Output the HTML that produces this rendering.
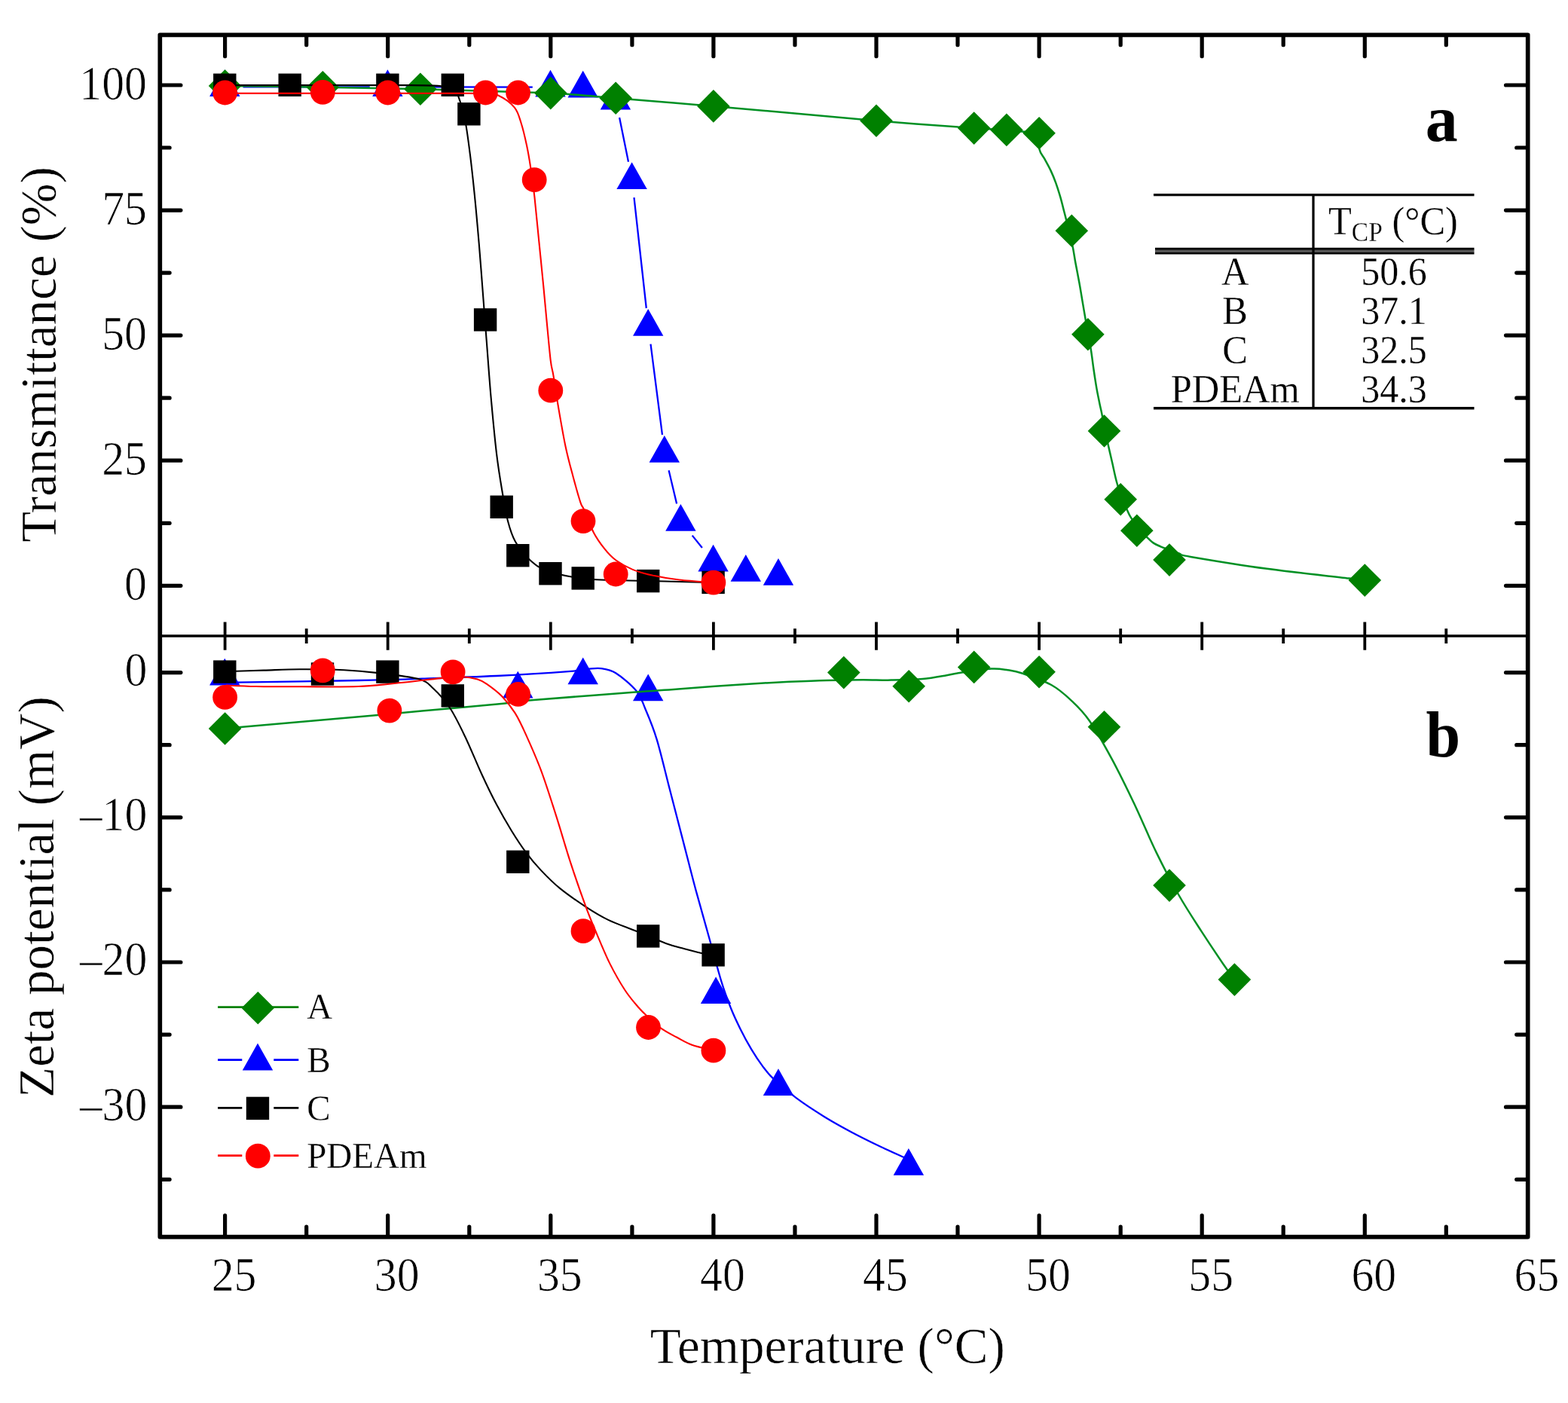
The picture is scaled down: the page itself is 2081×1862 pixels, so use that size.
<!DOCTYPE html>
<html lang="en">
<head>
<meta charset="utf-8">
<title>Transmittance and zeta potential vs temperature</title>
<style>
html, body { margin: 0; padding: 0; background: #fff; }
body { width: 2081px; height: 1862px; overflow: hidden; font-family: "Liberation Serif", "Times New Roman", serif; }
svg text { white-space: pre; }
</style>
</head>
<body>
<svg width="2081" height="1862" viewBox="0 0 2081 1862" style="display:block" role="img" aria-label="Transmittance and zeta potential versus temperature">
<rect width="2081" height="1862" fill="#fff"/>
<g id="top-panel">
<path d="M322.6,115.3L490.7,115.3M538.7,115.4L706.8,115.6M822.1,156.1L834,214.7M841.5,262.1L857.8,409M863.5,456.7L879,577.1M887.6,624.3L898.1,668.6M918.7,710.6L931.9,727" fill="none" stroke="#0000FF" stroke-width="2.3"/>
<path d="M298.3,92.3L318.5,128.1L278.1,128.1Z" fill="#0000FF"/>
<path d="M514.4,92.3L534.6,128.1L494.2,128.1Z" fill="#0000FF"/>
<path d="M730.5,92.7L750.7,128.5L710.3,128.5Z" fill="#0000FF"/>
<path d="M773.7,93.7L793.9,129.5L753.5,129.5Z" fill="#0000FF"/>
<path d="M816.9,109.6L837.1,145.4L796.7,145.4Z" fill="#0000FF"/>
<path d="M838.6,215.2L858.8,251L818.4,251Z" fill="#0000FF"/>
<path d="M860.2,409.9L880.4,445.7L840,445.7Z" fill="#0000FF"/>
<path d="M881.8,577.9L902,613.7L861.6,613.7Z" fill="#0000FF"/>
<path d="M903.4,668.9L923.6,704.7L883.2,704.7Z" fill="#0000FF"/>
<path d="M946.6,722.7L966.8,758.5L926.4,758.5Z" fill="#0000FF"/>
<path d="M989.8,736L1010,771.8L969.6,771.8Z" fill="#0000FF"/>
<path d="M1033,741L1053.2,776.8L1012.8,776.8Z" fill="#0000FF"/>
<path d="M298.6,114C313.7,114.2 398,115.2 428.3,115.7C458.5,116.2 522.6,117.4 557.9,118.3C593.2,119.2 700.5,122.2 730.8,123.6C761.1,125 792,128.3 817.2,130.3C842.5,132.3 906.6,137.4 946.9,140.9C987.2,144.4 1122.7,156.8 1163,160.2C1203.3,163.6 1272.5,168.7 1292.7,170.1C1312.8,171.6 1325.8,171.6 1335.9,172.4C1346,173.2 1374.1,176.3 1379.1,176.8" fill="none" stroke="#009024" stroke-width="2.5"/>
<path d="M1379.1,176.8C1379.2,180.4 1378.4,192.7 1379.6,198.4C1380.8,204.1 1384,206.6 1386.5,211.2C1389,215.8 1391.9,220.8 1394.4,226.1C1396.9,231.4 1399.2,237 1401.3,242.9C1403.4,248.8 1405.5,255.4 1407.3,261.7C1409.1,268 1410.9,275.4 1412.2,280.5C1413.5,285.6 1414.2,287.7 1415.2,292.3C1416.2,296.9 1417.1,302.3 1418.5,308C1419.9,313.7 1422,319.8 1423.5,326.7C1425,333.6 1426,341.4 1427.5,349.5C1429,357.6 1430.9,367 1432.4,375.2C1433.9,383.4 1435.1,391.1 1436.4,398.9C1437.7,406.6 1439,414.2 1440.3,421.7C1441.6,429.2 1443,436.8 1444.3,444C1445.6,451.2 1446.8,457.4 1448,465C1449.2,472.6 1450.2,481.3 1451.4,489.7C1452.6,498.1 1454.1,507.8 1455.4,515.4C1456.7,523 1458.2,529.6 1459.3,535.2C1460.4,540.8 1461.1,543 1462.3,549C1463.5,555 1465,563.8 1466.5,571C1468,578.2 1469.6,585.3 1471.2,592.5C1472.8,599.7 1474.4,606.4 1476.2,614.3C1478,622.2 1480,632.4 1482.1,640C1484.1,647.6 1486.1,653.7 1488.5,660C1490.9,666.3 1494.3,673.4 1496.3,677.7C1498.3,682.1 1498,682.1 1500.5,686.1C1503,690.1 1507.2,697.3 1511,702C1514.8,706.7 1520.1,711 1523.4,714.1C1526.7,717.2 1528,718.7 1530.8,720.6C1533.6,722.5 1536.8,723.8 1540.2,725.3C1543.6,726.8 1546.8,727.9 1551,729.5C1555.2,731.1 1560.6,733.1 1565.4,734.7C1570.2,736.3 1560.8,735.5 1580.1,738.9C1599.4,742.2 1646.5,750 1681.5,754.8C1716.5,759.6 1768.7,765 1790.3,767.6C1811.9,770.2 1807.8,769.8 1811.3,770.2" fill="none" stroke="#009024" stroke-width="2.5" stroke-linecap="butt" stroke-linejoin="round"/>
<path d="M298.6,92.2L320.4,114L298.6,135.8L276.8,114Z" fill="#008000"/>
<path d="M428.3,93.9L450.1,115.7L428.3,137.5L406.5,115.7Z" fill="#008000"/>
<path d="M557.9,96.5L579.7,118.3L557.9,140.1L536.1,118.3Z" fill="#008000"/>
<path d="M730.8,101.8L752.6,123.6L730.8,145.4L709,123.6Z" fill="#008000"/>
<path d="M817.2,108.5L839,130.3L817.2,152.1L795.4,130.3Z" fill="#008000"/>
<path d="M946.9,119.1L968.7,140.9L946.9,162.7L925.1,140.9Z" fill="#008000"/>
<path d="M1163,138.4L1184.8,160.2L1163,182L1141.2,160.2Z" fill="#008000"/>
<path d="M1292.7,148.3L1314.5,170.1L1292.7,191.9L1270.9,170.1Z" fill="#008000"/>
<path d="M1335.9,150.6L1357.7,172.4L1335.9,194.2L1314.1,172.4Z" fill="#008000"/>
<path d="M1379.1,155L1400.9,176.8L1379.1,198.6L1357.3,176.8Z" fill="#008000"/>
<path d="M1422.3,284.5L1444.1,306.3L1422.3,328.1L1400.5,306.3Z" fill="#008000"/>
<path d="M1443.9,422L1465.7,443.8L1443.9,465.6L1422.1,443.8Z" fill="#008000"/>
<path d="M1465.5,550.2L1487.3,572L1465.5,593.8L1443.7,572Z" fill="#008000"/>
<path d="M1487.2,640.9L1509,662.7L1487.2,684.5L1465.4,662.7Z" fill="#008000"/>
<path d="M1508.8,682.4L1530.6,704.2L1508.8,726L1487,704.2Z" fill="#008000"/>
<path d="M1552,721.3L1573.8,743.1L1552,764.9L1530.2,743.1Z" fill="#008000"/>
<path d="M1811.3,748.3L1833.1,770.1L1811.3,791.9L1789.5,770.1Z" fill="#008000"/>
<path d="M298,113.1C312.3,113.1 347.8,113.1 384,113.1C420.2,113.1 483.2,113 515,113.1C546.8,113.2 560.6,112.8 575,113.6C589.4,114.4 595.3,114.7 601.2,118.2C607.1,121.7 607.8,126.8 610.6,134.4C613.4,142 615.8,152.1 618,163.9C620.2,175.7 621.9,189.5 623.9,205.2C625.9,220.9 627.8,238.6 629.8,258.3C631.8,278 633.7,299.6 635.7,323.2C637.7,346.8 640.1,379 641.7,400C643.3,421 643.8,427.8 645.5,449.2C647.2,470.6 649.4,502.8 651.7,528.4C654,554 656.6,582 659.1,602.6C661.6,623.2 664,637.2 666.5,652C669,666.8 671.1,680.5 674,691.6C676.9,702.7 679,710.1 683.9,718.8C688.8,727.4 696.2,736.9 703.6,743.5C711,750.1 716,754.2 728.4,758.3C740.8,762.4 757.2,766.1 777.8,768.2C798.4,770.3 823.9,769.9 852,770.7C880.1,771.5 930.9,772.8 946.7,773.2" fill="none" stroke="#000000" stroke-width="2.1" stroke-linecap="butt" stroke-linejoin="round"/>
<rect x="283.1" y="97.6" width="30.4" height="30.4" fill="#000000"/>
<rect x="369.5" y="97.6" width="30.4" height="30.4" fill="#000000"/>
<rect x="499.2" y="97.6" width="30.4" height="30.4" fill="#000000"/>
<rect x="585.6" y="97.6" width="30.4" height="30.4" fill="#000000"/>
<rect x="607.2" y="136.1" width="30.4" height="30.4" fill="#000000"/>
<rect x="628.9" y="409.2" width="30.4" height="30.4" fill="#000000"/>
<rect x="650.5" y="657.6" width="30.4" height="30.4" fill="#000000"/>
<rect x="672.1" y="722" width="30.4" height="30.4" fill="#000000"/>
<rect x="715.3" y="746" width="30.4" height="30.4" fill="#000000"/>
<rect x="758.5" y="752.2" width="30.4" height="30.4" fill="#000000"/>
<rect x="845" y="755.9" width="30.4" height="30.4" fill="#000000"/>
<rect x="931.4" y="757.7" width="30.4" height="30.4" fill="#000000"/>
<path d="M298,123.9C319.7,123.9 391.8,123.9 428,123.9C464.2,123.9 486.3,123.9 515,123.9C543.7,123.9 578.7,123.9 600,123.9C621.3,124 632.7,123.7 643,124.2C653.3,124.7 655.4,123.9 662,127C668.6,130.1 677.9,136.6 682.8,142.6C687.7,148.6 688.9,154.8 691.6,163.2C694.3,171.5 696.9,182.9 699,192.7C701.1,202.5 702.5,210.8 704.2,222.2C705.9,233.6 707.5,244.9 709.4,261.2C711.2,277.5 713.3,300.5 715.3,320.2C717.3,339.9 719.4,361 721.2,379.2C723,397.4 724.3,412.9 725.9,429.5C727.5,446.1 729.4,467.4 730.8,478.9C732.2,490.4 732.9,488.8 734.5,498.7C736.1,508.6 738,522.6 740.7,538.3C743.4,554 747.3,577.1 750.6,592.7C753.9,608.4 757.2,619.9 760.5,632.2C763.8,644.6 767.9,659.4 770.4,666.8C772.9,674.2 772.4,670.1 775.3,676.7C778.2,683.3 783.2,697.7 787.7,706.4C792.2,715.1 797.7,722.5 802.6,728.7C807.5,734.9 811.2,739 817.4,743.5C823.6,748 831.8,752.6 839.6,755.9C847.4,759.2 854.1,761 864.4,763.3C874.7,765.6 887.8,767.9 901.5,769.5C915.2,771.1 939.2,772.6 946.7,773.2" fill="none" stroke="#FF0000" stroke-width="2.1" stroke-linecap="butt" stroke-linejoin="round"/>
<circle cx="298.6" cy="123" r="16.4" fill="#FF0000"/>
<circle cx="428.3" cy="122.3" r="16.4" fill="#FF0000"/>
<circle cx="514.7" cy="123" r="16.4" fill="#FF0000"/>
<circle cx="644.4" cy="123" r="16.4" fill="#FF0000"/>
<circle cx="687.6" cy="123" r="16.4" fill="#FF0000"/>
<circle cx="709.2" cy="238.6" r="16.4" fill="#FF0000"/>
<circle cx="730.8" cy="518.2" r="16.4" fill="#FF0000"/>
<circle cx="774" cy="691.6" r="16.4" fill="#FF0000"/>
<circle cx="817.2" cy="762" r="16.4" fill="#FF0000"/>
<circle cx="946.9" cy="773.1" r="16.4" fill="#FF0000"/>
</g>
<g id="bottom-panel">
<path d="M298,905.8C300.8,905.8 285.3,906.2 315,905.7C344.7,905.2 435.2,903.8 476,903C516.8,902.2 529.5,901.7 560,900.7C590.5,899.7 625.9,898.6 658.9,897C691.9,895.4 737.6,892.3 757.8,890.8C778,889.3 773.4,888.6 780,888C786.6,887.4 791.2,886.2 797.4,887.1C803.6,888 809.4,888.3 817.2,893.3C825,898.2 837.8,908.8 844.4,916.8C851,924.8 852.2,930.8 856.7,941.5C861.2,952.2 866.2,963.4 871.6,981.1C877,998.8 883.1,1025.5 888.9,1047.8C894.7,1070 900.4,1092.3 906.2,1114.6C912,1136.9 917.7,1160 923.5,1181.4C929.3,1202.8 935.1,1222.8 940.8,1243.2C946.5,1263.6 952.9,1288 957.8,1303.9C962.7,1319.8 966.1,1328.2 970.2,1338.5C974.3,1348.8 978.1,1356.6 982.6,1365.7C987.1,1374.8 992.5,1384.7 997.4,1392.9C1002.3,1401.1 1007.2,1408.5 1012.2,1415.1C1017.2,1421.7 1019.7,1425.4 1027.1,1432.4C1034.5,1439.4 1045.6,1449 1056.7,1457.2C1067.8,1465.5 1081.4,1474.3 1093.8,1481.9C1106.2,1489.5 1118.5,1496.3 1130.9,1502.9C1143.3,1509.5 1156,1515.7 1168,1521.5C1180,1527.3 1197.2,1534.8 1203,1537.5" fill="none" stroke="#0000FF" stroke-width="2.3" stroke-linecap="butt" stroke-linejoin="round"/>
<path d="M298.3,873.8L318.5,909.6L278.1,909.6Z" fill="#0000FF"/>
<path d="M687.3,890.7L707.5,926.5L667.1,926.5Z" fill="#0000FF"/>
<path d="M773.7,872.4L793.9,908.2L753.5,908.2Z" fill="#0000FF"/>
<path d="M860.2,894.4L880.4,930.2L840,930.2Z" fill="#0000FF"/>
<path d="M950.1,1296.2L970.3,1332L929.9,1332Z" fill="#0000FF"/>
<path d="M1033,1418.3L1053.2,1454.1L1012.8,1454.1Z" fill="#0000FF"/>
<path d="M1205.9,1524L1226.1,1559.8L1185.7,1559.8Z" fill="#0000FF"/>
<path d="M298.9,966.8C328.5,964.2 432.8,955.2 476.3,951.3C519.8,947.4 529.4,946.3 560,943.5C590.6,940.7 635.3,937 660,934.6C684.7,932.2 675.6,932 708.4,929.1C741.2,926.2 824.8,919.9 856.7,917.5C888.6,915.1 884.6,915.7 900,914.6C915.4,913.5 932.8,912 949.2,910.8C965.6,909.6 981.9,908.4 998.3,907.4C1014.7,906.4 1031.1,905.5 1047.5,904.7C1063.9,904 1080.3,903.3 1096.7,902.9C1113.1,902.5 1131.5,902.2 1145.8,902.2C1160.1,902.2 1169.6,902.8 1182.7,902.6C1195.8,902.4 1212.2,902.2 1224.5,901.1C1236.8,900 1248.2,897.6 1256.4,896.2C1264.6,894.9 1263.9,894.4 1273.7,893C1283.5,891.6 1304.8,888.2 1315.4,887.6C1326.1,887 1330.6,888.3 1337.6,889.3C1344.6,890.3 1347.6,890.5 1357.2,893.8C1366.8,897.1 1384.5,903 1395.3,909C1406.1,915 1413.6,921.9 1422,929.8C1430.4,937.7 1436.9,943.6 1445.8,956.5C1454.7,969.4 1465.5,988.6 1475.4,1006.9C1485.3,1025.2 1495.2,1045.5 1505.1,1066.3C1515,1087.1 1524.9,1111.3 1534.8,1131.6C1544.7,1151.9 1554.6,1170.7 1564.5,1188C1574.4,1205.3 1584.2,1220.1 1594.1,1235.4C1604,1250.7 1616.5,1269.3 1623.8,1280C1631.1,1290.7 1635.6,1296.5 1638,1299.8" fill="none" stroke="#009024" stroke-width="2.5" stroke-linecap="butt" stroke-linejoin="round"/>
<path d="M298.6,945.2L320.4,967L298.6,988.8L276.8,967Z" fill="#008000"/>
<path d="M1119.8,870.8L1141.6,892.6L1119.8,914.4L1098,892.6Z" fill="#008000"/>
<path d="M1206.2,888.9L1228,910.7L1206.2,932.5L1184.4,910.7Z" fill="#008000"/>
<path d="M1292.7,863.6L1314.5,885.4L1292.7,907.2L1270.9,885.4Z" fill="#008000"/>
<path d="M1379.1,870L1400.9,891.8L1379.1,913.6L1357.3,891.8Z" fill="#008000"/>
<path d="M1465.5,942.9L1487.3,964.7L1465.5,986.5L1443.7,964.7Z" fill="#008000"/>
<path d="M1552,1153.3L1573.8,1175.1L1552,1196.9L1530.2,1175.1Z" fill="#008000"/>
<path d="M1638.4,1278.3L1660.2,1300.1L1638.4,1321.9L1616.6,1300.1Z" fill="#008000"/>
<path d="M298,891.3C306.7,891 333.4,890.1 350,889.6C366.6,889.1 379.9,888.3 397.7,888.3C415.5,888.2 439.7,888.5 456.7,889.3C473.7,890.1 483.1,890.9 499.5,892.9C515.9,894.9 542.5,897.7 555,901.1C567.5,904.5 567.8,907.1 574.8,913.5C581.8,919.9 590,928.8 597.1,939.5C604.2,950.2 610.2,962.9 617.2,977.5C624.2,992.1 632.2,1012 639.1,1027C646,1042 652.3,1055.1 658.9,1067.6C665.5,1080.1 672.1,1091.5 678.7,1102.2C685.3,1112.9 691.9,1123 698.5,1131.9C705.1,1140.8 710.9,1147.6 718.3,1155.4C725.7,1163.2 733.1,1170.9 743,1178.9C752.9,1186.9 766.9,1196.6 777.6,1203.6C788.3,1210.6 796.2,1215.5 807.3,1220.9C818.4,1226.3 831.7,1230.6 844.4,1235.8C857.1,1241 872.9,1248 883.6,1251.9C894.3,1255.8 900.1,1257 908.4,1259.3C916.6,1261.6 926.7,1264 933.1,1265.5C939.5,1267 944.4,1267.6 946.7,1268" fill="none" stroke="#000000" stroke-width="2.1" stroke-linecap="butt" stroke-linejoin="round"/>
<rect x="283.1" y="876.4" width="30.4" height="30.4" fill="#000000"/>
<rect x="412.8" y="879.3" width="30.4" height="30.4" fill="#000000"/>
<rect x="499.2" y="876.4" width="30.4" height="30.4" fill="#000000"/>
<rect x="585.6" y="908.2" width="30.4" height="30.4" fill="#000000"/>
<rect x="672.1" y="1128.6" width="30.4" height="30.4" fill="#000000"/>
<rect x="845" y="1227.2" width="30.4" height="30.4" fill="#000000"/>
<rect x="931.4" y="1252.2" width="30.4" height="30.4" fill="#000000"/>
<path d="M300,909.5C306.7,909.8 323.3,910.7 340,911C356.7,911.3 377.3,911.3 400,911.3C422.7,911.3 453.4,911.9 476,911C498.6,910.1 517.2,907.5 535.3,905.7C553.4,903.9 571.4,901.4 584.5,900.1C597.6,898.9 605.8,898 614,898.2C622.2,898.4 628.3,899.9 633.7,901.5C639.1,903.1 641.1,904.3 646.5,908.1C651.9,911.9 660.1,917.8 666.3,924.2C672.5,930.6 678.2,937.8 683.6,946.4C689,955 692.7,963.3 698.5,976.1C704.3,988.9 711.7,1005.4 718.3,1023.1C724.9,1040.8 731.4,1061.8 738,1082.4C744.6,1103 751.2,1126.5 757.8,1146.7C764.4,1166.9 771.9,1188.1 777.6,1203.6C783.3,1219.1 786.8,1227 792.1,1239.6C797.4,1252.2 803.3,1266.8 809.5,1279.1C815.7,1291.4 823,1304.2 829.2,1313.7C835.4,1323.2 841.4,1330 846.5,1336C851.6,1342 854.5,1344.6 859.9,1349.6C865.3,1354.5 872.3,1361.2 878.7,1365.7C885.1,1370.2 891.9,1373.3 898.5,1376.8C905.1,1380.3 910.3,1383.8 918.3,1386.7C926.3,1389.6 942,1392.9 946.7,1394.1" fill="none" stroke="#FF0000" stroke-width="2.1" stroke-linecap="butt" stroke-linejoin="round"/>
<circle cx="298.6" cy="925.3" r="16.4" fill="#FF0000"/>
<circle cx="428.3" cy="889.9" r="16.4" fill="#FF0000"/>
<circle cx="516.9" cy="943.1" r="16.4" fill="#FF0000"/>
<circle cx="601.1" cy="891.8" r="16.4" fill="#FF0000"/>
<circle cx="687.6" cy="921.4" r="16.4" fill="#FF0000"/>
<circle cx="774" cy="1235.7" r="16.4" fill="#FF0000"/>
<circle cx="860.5" cy="1363.5" r="16.4" fill="#FF0000"/>
<circle cx="946.9" cy="1394.2" r="16.4" fill="#FF0000"/>
</g>
<g id="axes" stroke="#000" fill="none">
<rect x="212.3" y="46.3" width="1815.4" height="1595.3" stroke-width="5.7" stroke-linejoin="round"/>
<line x1="212.3" y1="844.0" x2="2027.7" y2="844.0" stroke-width="3.3"/>
<path d="M298.6,46.8V74.7M298.6,1641.1V1613.2M406.7,46.8V59.7M406.7,1641.1V1628.2M514.7,46.8V74.7M514.7,1641.1V1613.2M622.8,46.8V59.7M622.8,1641.1V1628.2M730.8,46.8V74.7M730.8,1641.1V1613.2M838.9,46.8V59.7M838.9,1641.1V1628.2M946.9,46.8V74.7M946.9,1641.1V1613.2M1055,46.8V59.7M1055,1641.1V1628.2M1163,46.8V74.7M1163,1641.1V1613.2M1271,46.8V59.7M1271,1641.1V1628.2M1379.1,46.8V74.7M1379.1,1641.1V1613.2M1487.2,46.8V59.7M1487.2,1641.1V1628.2M1595.2,46.8V74.7M1595.2,1641.1V1613.2M1703.2,46.8V59.7M1703.2,1641.1V1628.2M1811.3,46.8V74.7M1811.3,1641.1V1613.2M1919.3,46.8V59.7M1919.3,1641.1V1628.2M212.8,777.3H239.9M2027.2,777.3H1998.5M212.8,611.2H239.9M2027.2,611.2H1998.5M212.8,445.1H239.9M2027.2,445.1H1998.5M212.8,279.1H239.9M2027.2,279.1H1998.5M212.8,113H239.9M2027.2,113H1998.5M212.8,694.3H225.1M2027.2,694.3H2012.7M212.8,528.2H225.1M2027.2,528.2H2012.7M212.8,362.1H225.1M2027.2,362.1H2012.7M212.8,196H225.1M2027.2,196H2012.7M212.8,892.6H239.9M2027.2,892.6H1998.5M212.8,1084.8H239.9M2027.2,1084.8H1998.5M212.8,1277H239.9M2027.2,1277H1998.5M212.8,1469.2H239.9M2027.2,1469.2H1998.5M212.8,988.7H225.1M2027.2,988.7H2012.7M212.8,1180.9H225.1M2027.2,1180.9H2012.7M212.8,1373.1H225.1M2027.2,1373.1H2012.7M212.8,1565.3H225.1M2027.2,1565.3H2012.7" stroke-width="5.2" stroke-linecap="round"/>
<path d="M298.6,825.5V862.7M406.7,834.2V853.9M514.7,825.5V862.7M622.8,834.2V853.9M730.8,825.5V862.7M838.9,834.2V853.9M946.9,825.5V862.7M1055,834.2V853.9M1163,825.5V862.7M1271,834.2V853.9M1379.1,825.5V862.7M1487.2,834.2V853.9M1595.2,825.5V862.7M1703.2,834.2V853.9M1811.3,825.5V862.7M1919.3,834.2V853.9" stroke-width="3.8" stroke-linecap="butt"/>
</g>
<g id="labels" font-family="&quot;Liberation Serif&quot;, &quot;Times New Roman&quot;, serif" fill="#000">
<text transform="translate(310.6,1712.6) scale(0.98,1.03)" font-size="61" text-anchor="middle" stroke="#fff" stroke-width="0.7" stroke-linejoin="round">25</text>
<text transform="translate(526.7,1712.6) scale(0.98,1.03)" font-size="61" text-anchor="middle" stroke="#fff" stroke-width="0.7" stroke-linejoin="round">30</text>
<text transform="translate(742.8,1712.6) scale(0.98,1.03)" font-size="61" text-anchor="middle" stroke="#fff" stroke-width="0.7" stroke-linejoin="round">35</text>
<text transform="translate(958.9,1712.6) scale(0.98,1.03)" font-size="61" text-anchor="middle" stroke="#fff" stroke-width="0.7" stroke-linejoin="round">40</text>
<text transform="translate(1175,1712.6) scale(0.98,1.03)" font-size="61" text-anchor="middle" stroke="#fff" stroke-width="0.7" stroke-linejoin="round">45</text>
<text transform="translate(1391.1,1712.6) scale(0.98,1.03)" font-size="61" text-anchor="middle" stroke="#fff" stroke-width="0.7" stroke-linejoin="round">50</text>
<text transform="translate(1607.2,1712.6) scale(0.98,1.03)" font-size="61" text-anchor="middle" stroke="#fff" stroke-width="0.7" stroke-linejoin="round">55</text>
<text transform="translate(1823.3,1712.6) scale(0.98,1.03)" font-size="61" text-anchor="middle" stroke="#fff" stroke-width="0.7" stroke-linejoin="round">60</text>
<text transform="translate(2039.4,1712.6) scale(0.98,1.03)" font-size="61" text-anchor="middle" stroke="#fff" stroke-width="0.7" stroke-linejoin="round">65</text>
<text transform="translate(195,795.8) scale(0.98,1.03)" font-size="61" text-anchor="end" stroke="#fff" stroke-width="0.7" stroke-linejoin="round">0</text>
<text transform="translate(195,629.7) scale(0.98,1.03)" font-size="61" text-anchor="end" stroke="#fff" stroke-width="0.7" stroke-linejoin="round">25</text>
<text transform="translate(195,463.6) scale(0.98,1.03)" font-size="61" text-anchor="end" stroke="#fff" stroke-width="0.7" stroke-linejoin="round">50</text>
<text transform="translate(195,297.6) scale(0.98,1.03)" font-size="61" text-anchor="end" stroke="#fff" stroke-width="0.7" stroke-linejoin="round">75</text>
<text transform="translate(195,131.5) scale(0.98,1.03)" font-size="61" text-anchor="end" stroke="#fff" stroke-width="0.7" stroke-linejoin="round">100</text>
<text transform="translate(195.3,909.9) scale(0.98,1.03)" font-size="61" text-anchor="end" stroke="#fff" stroke-width="0.7" stroke-linejoin="round">0</text>
<text transform="translate(195.3,1102.1) scale(0.98,1.03)" font-size="61" text-anchor="end" stroke="#fff" stroke-width="0.7" stroke-linejoin="round">–10</text>
<text transform="translate(195.3,1294.3) scale(0.98,1.03)" font-size="61" text-anchor="end" stroke="#fff" stroke-width="0.7" stroke-linejoin="round">–20</text>
<text transform="translate(195.3,1486.5) scale(0.98,1.03)" font-size="61" text-anchor="end" stroke="#fff" stroke-width="0.7" stroke-linejoin="round">–30</text>
<text transform="translate(1098.3,1808.8) scale(1,1.02)" font-size="67.1" text-anchor="middle" stroke="#fff" stroke-width="0.5" stroke-linejoin="round">Temperature (°C)</text>
<text transform="translate(74.2,470.4) rotate(-90) scale(1,1.02)" font-size="67.1" text-anchor="middle" stroke="#fff" stroke-width="0.5" stroke-linejoin="round">Transmittance (%)</text>
<text transform="translate(70.6,1190.6) rotate(-90) scale(1,1.02)" font-size="67.1" text-anchor="middle" stroke="#fff" stroke-width="0.5" stroke-linejoin="round">Zeta potential (mV)</text>
<text transform="translate(1913.2,187) scale(1.06,1.1)" font-size="81" font-weight="bold" text-anchor="middle">a</text>
<text transform="translate(1915.4,1003.6) scale(1,1.05)" font-size="82" font-weight="bold" text-anchor="middle">b</text>
</g>
<g id="table">
<g stroke="#000" fill="none">
<path d="M1531,258.6H1956.5M1531,541.8H1956.5" stroke-width="3.4"/>
<path d="M1533,333.1H1956.5" stroke-width="3" stroke="#555"/>
<path d="M1533,330.3H1956.5M1533,336H1956.5" stroke-width="3"/>
<path d="M1743,258.6V541.8" stroke-width="3.2"/>
</g>
<g font-family="&quot;Liberation Serif&quot;, &quot;Times New Roman&quot;, serif" fill="#000" font-size="50.5" stroke="#fff" stroke-width="0.3" stroke-linejoin="round">
<text transform="translate(1763,311.3) scale(1,1.04)">T<tspan font-size="33.5" dy="8.7">CP</tspan><tspan dy="-8.7"> (°C)</tspan></text>
<text transform="translate(1639.2,378.4) scale(1,1.04)" text-anchor="middle">A</text>
<text transform="translate(1850,378.4) scale(0.99,1.04)" text-anchor="middle">50.6</text>
<text transform="translate(1639.2,430.2) scale(1,1.04)" text-anchor="middle">B</text>
<text transform="translate(1850,430.2) scale(0.99,1.04)" text-anchor="middle">37.1</text>
<text transform="translate(1639.2,482.2) scale(1,1.04)" text-anchor="middle">C</text>
<text transform="translate(1850,482.2) scale(0.99,1.04)" text-anchor="middle">32.5</text>
<text transform="translate(1639.2,534.4) scale(1,1.04)" text-anchor="middle">PDEAm</text>
<text transform="translate(1850,534.4) scale(0.99,1.04)" text-anchor="middle">34.3</text>
</g></g>
<g id="legend">
<path d="M289.1,1336.7H396.3" stroke="#008000" stroke-width="2.8"/>
<path d="M342.3,1315.9L364.1,1337.7L342.3,1359.5L320.5,1337.7Z" fill="#008000"/>
<path d="M289.1,1406.6H321.3M363.3,1406.6H396.3" stroke="#0000FF" stroke-width="2.8"/>
<path d="M342,1384.6L362.2,1420.4L321.8,1420.4Z" fill="#0000FF"/>
<path d="M289.1,1470.3H321.3M363.3,1470.3H396.3" stroke="#000000" stroke-width="2.8"/>
<rect x="326.8" y="1455.7" width="30.4" height="30.4" fill="#000000"/>
<path d="M289.1,1533.7H321.3M363.3,1533.7H396.3" stroke="#FF0000" stroke-width="2.8"/>
<circle cx="342.3" cy="1534.2" r="16.4" fill="#FF0000"/>
<g font-family="&quot;Liberation Serif&quot;, &quot;Times New Roman&quot;, serif" fill="#000" font-size="47.3" stroke="#fff" stroke-width="0.3" stroke-linejoin="round">
<text transform="translate(407.2,1352.1) scale(0.995,1.04)">A</text>
<text transform="translate(407.2,1423.2) scale(0.995,1.04)">B</text>
<text transform="translate(407.2,1487.4) scale(0.995,1.04)">C</text>
<text transform="translate(407.2,1549.6) scale(0.995,1.04)">PDEAm</text>
</g></g>
</svg>
</body>
</html>
